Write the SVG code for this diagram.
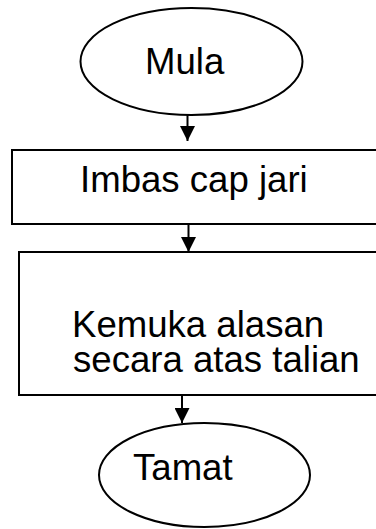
<svg xmlns="http://www.w3.org/2000/svg" width="376" height="529" viewBox="0 0 376 529">
<style>
.shape{fill:#fff;stroke:#000;stroke-width:2}
.lbl{font-family:"Liberation Sans",Arial,sans-serif;font-size:36.6px;fill:#000}
.conn{stroke:#000;stroke-width:2;fill:none}
</style>
<defs>
<marker id="ah" markerWidth="15" markerHeight="15" refX="15" refY="7.5" orient="auto" markerUnits="userSpaceOnUse">
<path d="M0,0 L15,7.5 L0,15 Z" fill="#000"/>
</marker>
</defs>
<rect width="376" height="529" fill="#fff"/>
<g id="mula">
<ellipse class="shape" cx="191.5" cy="61.5" rx="111" ry="53.5"/>
<text class="lbl" x="145" y="74">Mula</text>
</g>
<g id="imbas">
<rect class="shape" x="12" y="150" width="380" height="74"/>
<text class="lbl" x="80" y="192">Imbas cap jari</text>
</g>
<g id="kemuka">
<rect class="shape" x="19" y="252" width="380" height="143"/>
<text class="lbl"><tspan x="72" y="337">Kemuka alasan</tspan><tspan x="73" y="372">secara atas talian</tspan></text>
</g>
<g id="tamat">
<ellipse class="shape" cx="204.5" cy="475" rx="105.5" ry="52"/>
<text class="lbl" x="133" y="480">Tamat</text>
</g>
<g id="connectors">
<line class="conn" x1="187.5" y1="115" x2="187.5" y2="141" marker-end="url(#ah)"/>
<line class="conn" x1="188.5" y1="224" x2="188.5" y2="252" marker-end="url(#ah)"/>
<line class="conn" x1="182" y1="395" x2="182" y2="423" marker-end="url(#ah)"/>
</g>
</svg>
